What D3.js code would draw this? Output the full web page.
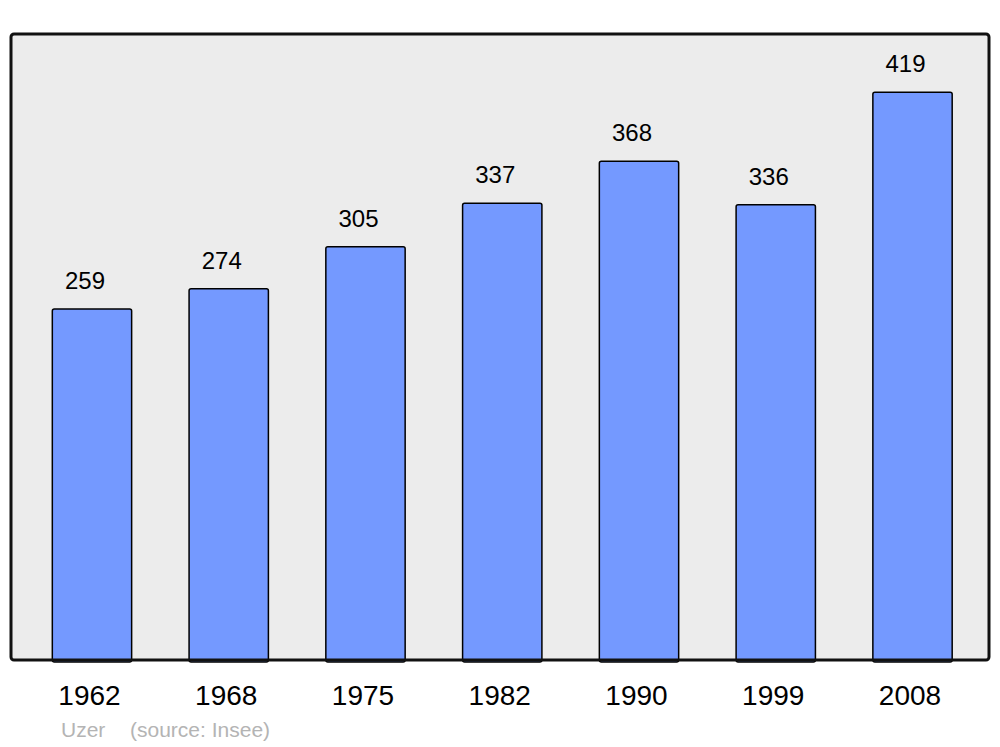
<!DOCTYPE html>
<html>
<head>
<meta charset="utf-8">
<script src="https://cdn.jsdelivr.net/npm/d3@7"></script>
<style>
  body { margin: 0; background: #fff; }
  text { font-family: "Liberation Sans", Arial, sans-serif; }
</style>
</head>
<body>
<svg width="1000" height="747"></svg>
<script>
  var years = ["1962", "1968", "1975", "1982", "1990", "1999", "2008"];
  var population = [259, 274, 305, 337, 368, 336, 419];
  var place = "Uzer";
  var source = "(source: Insee)";

  var svg = d3.select("svg"),
    panel = {left: 11, top: 34, right: 989, bottom: 660};

  var x = d3.scaleBand()
      .domain(years)
      .range([23.6, 980.9])
      .paddingInner(0.42)
      .paddingOuter(0.21);

  var y = d3.scaleLinear()
      .domain([0, 462])
      .range([panel.bottom, panel.top]);

  // background panel
  svg.append("rect")
      .attr("x", panel.left)
      .attr("y", panel.top)
      .attr("width", panel.right - panel.left)
      .attr("height", panel.bottom - panel.top)
      .attr("rx", 3)
      .attr("fill", "#ececec");

  var data = years.map(function(d, i) { return {year: d, value: population[i]}; });

  // bars
  svg.selectAll(".bar")
      .data(data)
    .enter().append("rect")
      .attr("class", "bar")
      .attr("x", function(d) { return x(d.year); })
      .attr("y", function(d) { return y(d.value); })
      .attr("width", x.bandwidth())
      .attr("height", function(d) { return y(0) - y(d.value) + 2; })
      .attr("rx", 2)
      .attr("fill", "#7499ff")
      .attr("stroke", "#000")
      .attr("stroke-width", 1.5);

  // panel border on top
  svg.append("rect")
      .attr("x", panel.left)
      .attr("y", panel.top)
      .attr("width", panel.right - panel.left)
      .attr("height", panel.bottom - panel.top)
      .attr("rx", 3)
      .attr("fill", "none")
      .attr("stroke", "#111")
      .attr("stroke-width", 3);

  // value labels
  svg.selectAll(".value")
      .data(data)
    .enter().append("text")
      .attr("class", "value")
      .attr("x", function(d) { return x(d.year) + x.bandwidth() / 2 - 7; })
      .attr("y", function(d) { return y(d.value) - 20; })
      .attr("text-anchor", "middle")
      .attr("font-size", "24px")
      .attr("fill", "#000")
      .text(function(d) { return d.value; });

  // year labels
  svg.selectAll(".year")
      .data(data)
    .enter().append("text")
      .attr("class", "year")
      .attr("x", function(d) { return x(d.year) + x.bandwidth() / 2 - 2.5; })
      .attr("y", 705)
      .attr("text-anchor", "middle")
      .attr("font-size", "28px")
      .attr("fill", "#000")
      .text(function(d) { return d.year; });

  // footer
  svg.append("text")
      .attr("x", 61)
      .attr("y", 737)
      .attr("font-size", "21px")
      .attr("fill", "#b4b4b4")
      .text(place);

  svg.append("text")
      .attr("x", 130)
      .attr("y", 737)
      .attr("font-size", "21px")
      .attr("fill", "#b4b4b4")
      .text(source);
</script>
</body>
</html>
